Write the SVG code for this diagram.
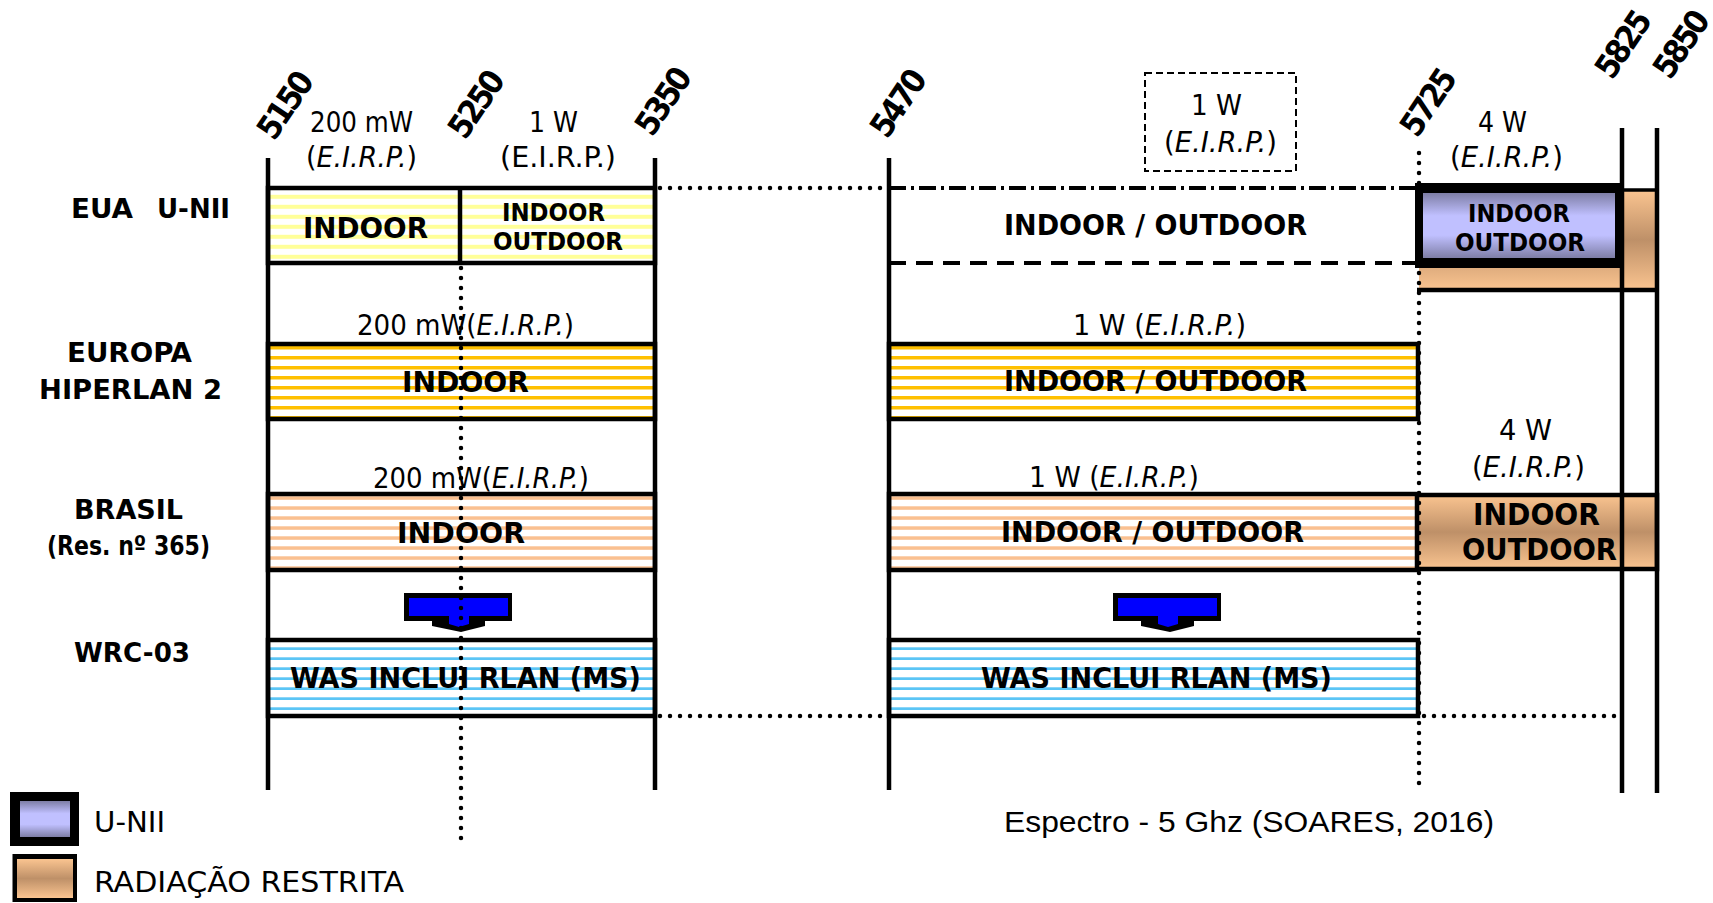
<svg xmlns="http://www.w3.org/2000/svg" width="1713" height="903" viewBox="0 0 1713 903">
  <style>
    .ln { stroke:#000; stroke-width:4.5; fill:none; }
    .box { stroke:#000; stroke-width:4.5; }
    .dot { stroke:#000; stroke-width:4.5; stroke-linecap:round; stroke-dasharray:0 10; fill:none; }
    .t { font-family:"DejaVu Sans Condensed","DejaVu Sans",sans-serif; fill:#000; }
    .b { font-weight:bold; }
    .i { font-style:italic; }
    .freq { font-family:"DejaVu Sans Condensed","DejaVu Sans",sans-serif; font-weight:bold; font-size:33px; letter-spacing:-3px; text-anchor:middle; }
    .arrow-out { fill:#000; }
    .arrow-in { fill:#0000FF; }
  </style>
  <defs>
    <pattern id="stYellow" width="10" height="10" patternUnits="userSpaceOnUse">
      <rect width="10" height="10" fill="#fff"/>
      <rect y="4.8" width="10" height="4" fill="#FFFF99"/>
    </pattern>
    <pattern id="stGold" width="10" height="10" patternUnits="userSpaceOnUse">
      <rect width="10" height="10" fill="#fff"/>
      <rect y="6" width="10" height="3.5" fill="#FFC000"/>
    </pattern>
    <pattern id="stPeach" width="10" height="10" patternUnits="userSpaceOnUse">
      <rect width="10" height="10" fill="#fff"/>
      <rect y="6.3" width="10" height="3.5" fill="#FAC090"/>
    </pattern>
    <pattern id="stBlue" width="10" height="10" patternUnits="userSpaceOnUse">
      <rect width="10" height="10" fill="#fff"/>
      <rect y="7.3" width="10" height="3.5" fill="#5BC5F5"/>
    </pattern>
    <linearGradient id="gPurple" x1="0" y1="0" x2="0" y2="1">
      <stop offset="0" stop-color="#7E7EA6"/>
      <stop offset="0.35" stop-color="#C0C0FF"/>
      <stop offset="0.65" stop-color="#C0C0FF"/>
      <stop offset="1" stop-color="#7E7EA6"/>
    </linearGradient>
    <linearGradient id="gOrange" x1="0" y1="0" x2="0" y2="1">
      <stop offset="0" stop-color="#FAC490"/>
      <stop offset="0.5" stop-color="#BE9068"/>
      <stop offset="1" stop-color="#FAC490"/>
    </linearGradient>
  </defs>

  <rect width="1713" height="903" fill="#fff"/>

  <!-- EUA U-NII band -->
  <g id="eua">
    <rect class="box" x="268" y="188" width="387" height="75" fill="url(#stYellow)"/>
    <line class="ln" x1="460" y1="188" x2="460" y2="263"/>
    <!-- restricted radiation block behind the U-NII box -->
    <rect x="1419" y="190" width="238" height="100" fill="url(#gOrange)"/>
    <line class="ln" x1="1622" y1="190" x2="1657" y2="190" style="stroke-width:3.5"/>
    <line class="ln" x1="1417" y1="290" x2="1657" y2="290"/>
    <rect x="1415" y="183" width="209" height="85" fill="#000"/>
    <rect x="1423" y="193" width="192" height="65" fill="url(#gPurple)"/>
    <text class="t b" x="71" y="218" font-size="27" textLength="62" lengthAdjust="spacingAndGlyphs">EUA</text>
    <text class="t b" x="157" y="218" font-size="27" textLength="73" lengthAdjust="spacingAndGlyphs">U-NII</text>
    <text class="t" x="310" y="132" font-size="29" textLength="103" lengthAdjust="spacingAndGlyphs">200 mW</text>
    <text class="t" x="306" y="167" font-size="29" textLength="111" lengthAdjust="spacingAndGlyphs">(<tspan class="i">E.I.R.P.</tspan>)</text>
    <text class="t" x="529" y="132" font-size="29" textLength="49" lengthAdjust="spacingAndGlyphs">1 W</text>
    <text class="t" x="500" y="167" font-size="29" textLength="116" lengthAdjust="spacingAndGlyphs">(E.I.R.P.)</text>
    <text class="t b" x="303" y="238" font-size="29" textLength="125" lengthAdjust="spacingAndGlyphs">INDOOR</text>
    <text class="t b" x="502" y="221" font-size="24" textLength="103" lengthAdjust="spacingAndGlyphs">INDOOR</text>
    <text class="t b" x="493" y="250" font-size="24" textLength="130" lengthAdjust="spacingAndGlyphs">OUTDOOR</text>
    <rect x="1145" y="73" width="151" height="98" fill="none" stroke="#000" stroke-width="2" stroke-dasharray="7 4"/>
    <text class="t" x="1191" y="115" font-size="29" textLength="51" lengthAdjust="spacingAndGlyphs">1 W</text>
    <text class="t" x="1164" y="152" font-size="29" textLength="113" lengthAdjust="spacingAndGlyphs">(<tspan class="i">E.I.R.P.</tspan>)</text>
    <text class="t b" x="1004" y="235" font-size="29" textLength="303" lengthAdjust="spacingAndGlyphs">INDOOR / OUTDOOR</text>
    <text class="t" x="1478" y="132" font-size="29" textLength="49" lengthAdjust="spacingAndGlyphs">4 W</text>
    <text class="t" x="1450" y="167" font-size="29" textLength="113" lengthAdjust="spacingAndGlyphs">(<tspan class="i">E.I.R.P.</tspan>)</text>
    <text class="t b" x="1468" y="222" font-size="25" textLength="102" lengthAdjust="spacingAndGlyphs">INDOOR</text>
    <text class="t b" x="1455" y="251" font-size="25" textLength="130" lengthAdjust="spacingAndGlyphs">OUTDOOR</text>
  </g>

  <!-- EUROPA HIPERLAN 2 band -->
  <g id="europa">
    <rect class="box" x="268" y="344" width="387" height="75" fill="url(#stGold)"/>
    <rect class="box" x="889" y="344" width="529" height="75" fill="url(#stGold)"/>
    <text class="t b" x="67" y="362" font-size="27" textLength="125" lengthAdjust="spacingAndGlyphs">EUROPA</text>
    <text class="t b" x="39" y="399" font-size="27" textLength="183" lengthAdjust="spacingAndGlyphs">HIPERLAN 2</text>
    <text class="t" x="357" y="335" font-size="29" textLength="217" lengthAdjust="spacingAndGlyphs">200 mW(<tspan class="i">E.I.R.P.</tspan>)</text>
    <text class="t b" x="402" y="392" font-size="29" textLength="127" lengthAdjust="spacingAndGlyphs">INDOOR</text>
    <text class="t" x="1073" y="335" font-size="29" textLength="173" lengthAdjust="spacingAndGlyphs">1 W (<tspan class="i">E.I.R.P.</tspan>)</text>
    <text class="t b" x="1004" y="391" font-size="29" textLength="303" lengthAdjust="spacingAndGlyphs">INDOOR / OUTDOOR</text>
  </g>

  <!-- BRASIL band -->
  <g id="brasil">
    <rect class="box" x="268" y="494" width="387" height="76" fill="url(#stPeach)"/>
    <rect class="box" x="889" y="494" width="529" height="76" fill="url(#stPeach)"/>
    <rect class="box" x="1417" y="495" width="240" height="74" fill="url(#gOrange)"/>
    <text class="t b" x="74" y="519" font-size="27" textLength="109" lengthAdjust="spacingAndGlyphs">BRASIL</text>
    <text class="t b" x="47" y="555" font-size="27" textLength="163" lengthAdjust="spacingAndGlyphs">(Res. nº 365)</text>
    <text class="t" x="373" y="488" font-size="29" textLength="216" lengthAdjust="spacingAndGlyphs">200 mW(<tspan class="i">E.I.R.P.</tspan>)</text>
    <text class="t b" x="397" y="543" font-size="29" textLength="128" lengthAdjust="spacingAndGlyphs">INDOOR</text>
    <text class="t" x="1029" y="487" font-size="29" textLength="170" lengthAdjust="spacingAndGlyphs">1 W (<tspan class="i">E.I.R.P.</tspan>)</text>
    <text class="t b" x="1001" y="542" font-size="29" textLength="303" lengthAdjust="spacingAndGlyphs">INDOOR / OUTDOOR</text>
    <text class="t" x="1499" y="440" font-size="29" textLength="53" lengthAdjust="spacingAndGlyphs">4 W</text>
    <text class="t" x="1472" y="477" font-size="29" textLength="113" lengthAdjust="spacingAndGlyphs">(<tspan class="i">E.I.R.P.</tspan>)</text>
    <text class="t b" x="1473" y="525" font-size="30" textLength="127" lengthAdjust="spacingAndGlyphs">INDOOR</text>
    <text class="t b" x="1462" y="560" font-size="30" textLength="155" lengthAdjust="spacingAndGlyphs">OUTDOOR</text>
  </g>

  <!-- WRC-03 band -->
  <g id="wrc">
    <rect class="box" x="268" y="640" width="387" height="76" fill="url(#stBlue)"/>
    <rect class="box" x="889" y="640" width="529" height="76" fill="url(#stBlue)"/>
    <text class="t b" x="74" y="662" font-size="27" textLength="116" lengthAdjust="spacingAndGlyphs">WRC-03</text>
    <text class="t b" x="290" y="688" font-size="29" textLength="351" lengthAdjust="spacingAndGlyphs">WAS INCLUI RLAN (MS)</text>
    <text class="t b" x="981" y="688" font-size="29" textLength="351" lengthAdjust="spacingAndGlyphs">WAS INCLUI RLAN (MS)</text>
  </g>

  <!-- down arrows from BRASIL to WRC-03 -->
  <g id="arrow-left">
    <path class="arrow-out" d="M404,593 H512 V621 H485 V626 L461,632 L432,626 V621 H404 Z"/>
    <rect class="arrow-in" x="409" y="598" width="99" height="18"/>
    <path class="arrow-in" d="M449,616 H469 V624 L459,627 L449,624 Z"/>
  </g>
  <g id="arrow-right" transform="translate(709,0)">
    <path class="arrow-out" d="M404,593 H512 V621 H485 V626 L461,632 L432,626 V621 H404 Z"/>
    <rect class="arrow-in" x="409" y="598" width="99" height="18"/>
    <path class="arrow-in" d="M449,616 H469 V624 L459,627 L449,624 Z"/>
  </g>

  <!-- frequency axis lines and band limits -->
  <g id="connectors">
    <line class="ln" x1="268" y1="158" x2="268" y2="790"/>
    <line class="ln" x1="655" y1="158" x2="655" y2="790"/>
    <line class="ln" x1="889" y1="158" x2="889" y2="790"/>
    <line class="ln" x1="1622" y1="128" x2="1622" y2="793"/>
    <line class="ln" x1="1657" y1="128" x2="1657" y2="793"/>
    <line class="dot" x1="461" y1="268" x2="461" y2="842"/>
    <line class="dot" x1="1419" y1="153" x2="1419" y2="788"/>
    <line class="dot" x1="660" y1="188" x2="886" y2="188"/>
    <line class="ln" x1="889" y1="188" x2="1418" y2="188" style="stroke-width:4;stroke-dasharray:17 5 3 5"/>
    <line class="ln" x1="889" y1="263" x2="1418" y2="263" style="stroke-width:4;stroke-dasharray:17 10"/>
    <line class="dot" x1="660" y1="716" x2="886" y2="716"/>
    <line class="dot" x1="1424" y1="716" x2="1618" y2="716"/>
  </g>

  <!-- frequency labels (MHz) -->
  <g id="freq-labels">
    <text class="freq" transform="translate(284,106) rotate(-56)" dy="12">5150</text>
    <text class="freq" transform="translate(475,105) rotate(-56)" dy="12">5250</text>
    <text class="freq" transform="translate(662,102) rotate(-56)" dy="12">5350</text>
    <text class="freq" transform="translate(897,104) rotate(-56)" dy="12">5470</text>
    <text class="freq" transform="translate(1427,103) rotate(-56)" dy="12">5725</text>
    <text class="freq" transform="translate(1622,45) rotate(-56)" dy="12">5825</text>
    <text class="freq" transform="translate(1680,45) rotate(-56)" dy="12">5850</text>
  </g>

  <!-- legend -->
  <g id="legend-unii">
    <rect x="10" y="792" width="69" height="54" fill="#000"/>
    <rect x="20" y="801" width="50" height="36" fill="url(#gPurple)"/>
    <text class="t" x="94" y="832" font-size="29" textLength="71" lengthAdjust="spacingAndGlyphs">U-NII</text>
  </g>
  <g id="legend-restrita">
    <rect x="12.5" y="854" width="64.5" height="48" fill="#000"/>
    <rect x="17" y="859" width="56" height="39" fill="url(#gOrange)"/>
    <text class="t" x="94" y="892" font-size="28" textLength="310" lengthAdjust="spacingAndGlyphs">RADIAÇÃO RESTRITA</text>
  </g>

  <g id="caption">
    <text x="1004" y="832" font-family="'Liberation Sans', Arial, sans-serif" font-size="30" textLength="490" lengthAdjust="spacingAndGlyphs">Espectro - 5 Ghz (SOARES, 2016)</text>
  </g>
</svg>
